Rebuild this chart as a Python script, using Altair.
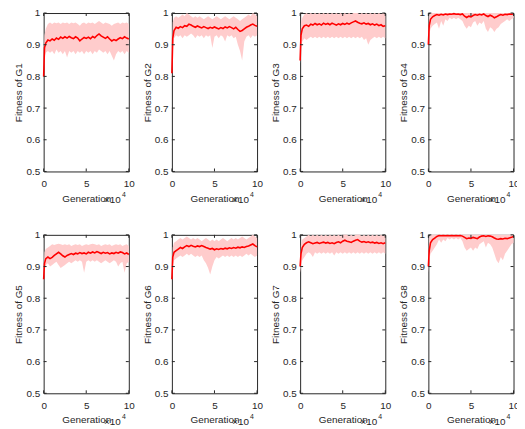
import altair as alt
import pandas as pd

# Generation (x 10^4)
X = [0, 0.1,
     0.25, 0.5, 0.75, 1, 1.25, 1.5, 1.75, 2, 2.25, 2.5,
     2.75, 3, 3.25, 3.5, 3.75, 4, 4.25, 4.5, 4.75, 5,
     5.25, 5.5, 5.75, 6, 6.25, 6.5, 6.75, 7, 7.25, 7.5,
     7.75, 8, 8.25, 8.5, 8.75, 9, 9.25, 9.5, 9.75, 10]

G1_MEAN = [0.80, 0.89,
           0.905, 0.915, 0.912, 0.918, 0.914, 0.921, 0.917, 0.924, 0.920, 0.925,
           0.921, 0.926, 0.922, 0.919, 0.925, 0.921, 0.912, 0.918, 0.923, 0.920,
           0.924, 0.919, 0.926, 0.922, 0.929, 0.934, 0.928, 0.924, 0.920, 0.925,
           0.918, 0.912, 0.916, 0.913, 0.918, 0.922, 0.919, 0.925, 0.921, 0.918]
G1_LO = [0.80, 0.86,
         0.875, 0.880, 0.875, 0.880, 0.870, 0.885, 0.875, 0.880, 0.870, 0.880,
         0.860, 0.880, 0.875, 0.880, 0.870, 0.880, 0.875, 0.880, 0.870, 0.880,
         0.875, 0.880, 0.870, 0.880, 0.875, 0.885, 0.880, 0.875, 0.880, 0.870,
         0.880, 0.865, 0.850, 0.870, 0.880, 0.875, 0.880, 0.870, 0.880, 0.875]
G1_HI = [0.81, 0.93,
         0.950, 0.965, 0.970, 0.965, 0.970, 0.968, 0.970, 0.965, 0.970, 0.968,
         0.970, 0.965, 0.970, 0.968, 0.970, 0.965, 0.960, 0.968, 0.970, 0.965,
         0.970, 0.968, 0.970, 0.965, 0.970, 0.975, 0.970, 0.965, 0.970, 0.968,
         0.965, 0.960, 0.965, 0.968, 0.970, 0.965, 0.970, 0.968, 0.970, 0.965]

G2_MEAN = [0.81, 0.92,
           0.945, 0.955, 0.952, 0.957, 0.954, 0.960, 0.958, 0.965, 0.962, 0.958,
           0.955, 0.959, 0.956, 0.953, 0.957, 0.954, 0.951, 0.955, 0.952, 0.956,
           0.953, 0.950, 0.954, 0.951, 0.956, 0.953, 0.957, 0.954, 0.950, 0.955,
           0.948, 0.942, 0.945, 0.950, 0.955, 0.958, 0.962, 0.965, 0.961, 0.958]
G2_LO = [0.80, 0.88,
         0.920, 0.930, 0.925, 0.930, 0.920, 0.930, 0.925, 0.930, 0.935, 0.930,
         0.920, 0.930, 0.925, 0.930, 0.920, 0.930, 0.925, 0.930, 0.890, 0.925,
         0.930, 0.920, 0.930, 0.925, 0.910, 0.930, 0.925, 0.930, 0.920, 0.925,
         0.900, 0.880, 0.850, 0.910, 0.925, 0.930, 0.920, 0.930, 0.925, 0.930]
G2_HI = [0.82, 0.97,
         0.985, 0.990, 0.985, 0.990, 0.995, 0.990, 1.000, 0.995, 0.990, 0.985,
         0.990, 0.985, 0.990, 0.985, 0.980, 0.985, 0.990, 0.985, 0.980, 0.985,
         0.990, 0.985, 0.980, 0.985, 0.990, 0.985, 0.980, 0.985, 0.990, 0.985,
         0.980, 0.975, 0.980, 0.985, 0.990, 0.995, 0.990, 1.000, 0.995, 0.990]

G3_MEAN = [0.85, 0.93,
           0.950, 0.960, 0.962, 0.958, 0.965, 0.962, 0.967, 0.963, 0.966, 0.962,
           0.968, 0.964, 0.967, 0.963, 0.968, 0.965, 0.962, 0.966, 0.963, 0.967,
           0.964, 0.968, 0.965, 0.969, 0.972, 0.975, 0.971, 0.968, 0.966, 0.969,
           0.965, 0.967, 0.963, 0.966, 0.962, 0.965, 0.960, 0.963, 0.958, 0.960]
G3_LO = [0.84, 0.89,
         0.910, 0.920, 0.915, 0.920, 0.925, 0.920, 0.925, 0.920, 0.925, 0.920,
         0.925, 0.920, 0.925, 0.920, 0.925, 0.920, 0.925, 0.920, 0.925, 0.920,
         0.925, 0.920, 0.925, 0.920, 0.925, 0.920, 0.925, 0.920, 0.925, 0.915,
         0.920, 0.900, 0.915, 0.920, 0.925, 0.920, 0.925, 0.920, 0.925, 0.920]
G3_HI = [0.86, 0.97,
         0.985, 0.995, 1.000, 0.995, 1.000, 0.995, 1.000, 0.995, 1.000, 0.995,
         1.000, 0.995, 1.000, 0.995, 1.000, 0.995, 1.000, 0.995, 1.000, 0.995,
         1.000, 0.995, 1.000, 0.995, 1.000, 1.000, 1.000, 0.995, 1.000, 0.995,
         1.000, 0.995, 1.000, 0.995, 1.000, 0.995, 1.000, 0.995, 1.000, 0.995]

G4_MEAN = [0.90, 0.96,
           0.980, 0.988, 0.992, 0.995, 0.993, 0.996, 0.994, 0.997, 0.995, 0.997,
           0.996, 0.998, 0.996, 0.997, 0.995, 0.997, 0.990, 0.986, 0.990, 0.988,
           0.992, 0.995, 0.993, 0.996, 0.994, 0.997, 0.992, 0.989, 0.993, 0.990,
           0.985, 0.988, 0.992, 0.995, 0.993, 0.996, 0.995, 0.997, 0.996, 0.997]
G4_LO = [0.88, 0.93,
         0.950, 0.960, 0.965, 0.970, 0.950, 0.975, 0.960, 0.980, 0.975, 0.985,
         0.980, 0.985, 0.980, 0.985, 0.980, 0.975, 0.960, 0.950, 0.960, 0.955,
         0.970, 0.975, 0.960, 0.970, 0.965, 0.975, 0.950, 0.940, 0.955, 0.950,
         0.940, 0.950, 0.955, 0.965, 0.970, 0.975, 0.980, 0.975, 0.980, 0.985]
G4_HI = [0.92, 0.99,
         1.000, 1.000, 1.000, 1.000, 1.000, 1.000, 1.000, 1.000, 1.000, 1.000,
         1.000, 1.000, 1.000, 1.000, 1.000, 1.000, 1.000, 1.000, 1.000, 1.000,
         1.000, 1.000, 1.000, 1.000, 1.000, 1.000, 1.000, 1.000, 1.000, 1.000,
         1.000, 1.000, 1.000, 1.000, 1.000, 1.000, 1.000, 1.000, 1.000, 1.000]

G5_MEAN = [0.86, 0.91,
           0.925, 0.930, 0.925, 0.929, 0.935, 0.940, 0.945, 0.940, 0.934, 0.930,
           0.935, 0.938, 0.941, 0.938, 0.942, 0.940, 0.944, 0.941, 0.943, 0.940,
           0.945, 0.942, 0.946, 0.943, 0.947, 0.944, 0.941, 0.945, 0.942, 0.944,
           0.940, 0.943, 0.941, 0.945, 0.942, 0.946, 0.944, 0.940, 0.943, 0.938]
G5_LO = [0.85, 0.89,
         0.905, 0.910, 0.900, 0.905, 0.910, 0.915, 0.905, 0.895, 0.900, 0.905,
         0.910, 0.915, 0.910, 0.915, 0.920, 0.915, 0.920, 0.915, 0.880, 0.915,
         0.920, 0.915, 0.920, 0.915, 0.920, 0.915, 0.910, 0.915, 0.920, 0.915,
         0.910, 0.915, 0.920, 0.915, 0.900, 0.910, 0.915, 0.880, 0.910, 0.915]
G5_HI = [0.87, 0.945,
         0.955, 0.960, 0.965, 0.970, 0.968, 0.970, 0.972, 0.970, 0.968, 0.970,
         0.968, 0.970, 0.965, 0.968, 0.970, 0.968, 0.970, 0.965, 0.968, 0.970,
         0.968, 0.970, 0.972, 0.970, 0.968, 0.970, 0.965, 0.968, 0.970, 0.968,
         0.970, 0.965, 0.968, 0.970, 0.968, 0.970, 0.965, 0.968, 0.970, 0.965]

G6_MEAN = [0.86, 0.93,
           0.945, 0.950, 0.955, 0.960, 0.957, 0.962, 0.966, 0.963, 0.967, 0.964,
           0.962, 0.965, 0.963, 0.966, 0.963, 0.960, 0.958, 0.955, 0.957, 0.953,
           0.956, 0.954, 0.957, 0.955, 0.958, 0.956, 0.959, 0.957, 0.960, 0.958,
           0.961, 0.959, 0.962, 0.960, 0.963, 0.965, 0.968, 0.971, 0.966, 0.962]
G6_LO = [0.85, 0.90,
         0.920, 0.925, 0.930, 0.935, 0.930, 0.935, 0.940, 0.935, 0.940, 0.935,
         0.930, 0.935, 0.930, 0.935, 0.920, 0.910, 0.895, 0.875, 0.900, 0.920,
         0.930, 0.925, 0.930, 0.935, 0.930, 0.935, 0.930, 0.935, 0.930, 0.935,
         0.930, 0.935, 0.930, 0.935, 0.940, 0.935, 0.940, 0.935, 0.930, 0.935]
G6_HI = [0.87, 0.96,
         0.975, 0.980, 0.985, 0.990, 0.985, 0.990, 0.995, 0.990, 0.985, 0.990,
         0.985, 0.990, 0.985, 0.980, 0.985, 0.990, 0.985, 0.980, 0.985, 0.980,
         0.985, 0.980, 0.985, 0.990, 0.985, 0.980, 0.985, 0.990, 0.985, 0.990,
         0.985, 0.990, 0.995, 0.990, 0.985, 0.990, 0.995, 1.000, 0.995, 0.990]

G7_MEAN = [0.90, 0.94,
           0.960, 0.970, 0.975, 0.978, 0.975, 0.972, 0.974, 0.976, 0.973, 0.975,
           0.977, 0.974, 0.976, 0.973, 0.975, 0.972, 0.976, 0.978, 0.975, 0.980,
           0.983, 0.980, 0.978, 0.976, 0.980, 0.983, 0.985, 0.980, 0.977, 0.979,
           0.976, 0.978, 0.975, 0.977, 0.974, 0.976, 0.973, 0.975, 0.972, 0.975]
G7_LO = [0.88, 0.90,
         0.920, 0.930, 0.940, 0.945, 0.940, 0.930, 0.945, 0.940, 0.945, 0.940,
         0.945, 0.940, 0.945, 0.940, 0.945, 0.935, 0.945, 0.940, 0.945, 0.940,
         0.945, 0.940, 0.945, 0.940, 0.945, 0.940, 0.945, 0.940, 0.945, 0.940,
         0.945, 0.940, 0.945, 0.940, 0.945, 0.940, 0.945, 0.940, 0.945, 0.940]
G7_HI = [0.91, 0.97,
         0.985, 0.990, 0.995, 1.000, 0.995, 1.000, 0.995, 1.000, 0.995, 1.000,
         0.995, 1.000, 0.995, 1.000, 0.995, 1.000, 0.995, 1.000, 0.995, 1.000,
         1.000, 1.000, 0.995, 1.000, 0.995, 1.000, 1.000, 1.000, 0.995, 1.000,
         0.995, 1.000, 0.995, 1.000, 0.995, 1.000, 0.995, 1.000, 0.995, 1.000]

G8_MEAN = [0.90, 0.95,
           0.975, 0.985, 0.990, 0.995, 0.998, 0.997, 0.998, 0.997, 0.998, 0.997,
           0.998, 0.997, 0.998, 0.997, 0.998, 0.996, 0.992, 0.988, 0.990, 0.989,
           0.992, 0.990, 0.988, 0.993, 0.996, 0.997, 0.995, 0.997, 0.996, 0.994,
           0.990, 0.987, 0.986, 0.988, 0.987, 0.989, 0.988, 0.990, 0.992, 0.995]
G8_LO = [0.88, 0.92,
         0.940, 0.950, 0.960, 0.970, 0.985, 0.975, 0.985, 0.980, 0.990, 0.985,
         0.990, 0.985, 0.990, 0.985, 0.990, 0.980, 0.960, 0.950, 0.955, 0.960,
         0.950, 0.960, 0.955, 0.970, 0.975, 0.980, 0.960, 0.975, 0.970, 0.960,
         0.940, 0.920, 0.910, 0.930, 0.920, 0.940, 0.950, 0.960, 0.970, 0.975]
G8_HI = [0.92, 0.99,
         1.000, 1.000, 1.000, 1.000, 1.000, 1.000, 1.000, 1.000, 1.000, 1.000,
         1.000, 1.000, 1.000, 1.000, 1.000, 1.000, 1.000, 1.000, 1.000, 1.000,
         1.000, 1.000, 1.000, 1.000, 1.000, 1.000, 1.000, 1.000, 1.000, 1.000,
         1.000, 1.000, 1.000, 1.000, 1.000, 1.000, 1.000, 1.000, 1.000, 1.000]

NAMES = ["G1", "G2", "G3", "G4", "G5", "G6", "G7", "G8"]
SERIES = [(G1_MEAN, G1_LO, G1_HI), (G2_MEAN, G2_LO, G2_HI),
          (G3_MEAN, G3_LO, G3_HI), (G4_MEAN, G4_LO, G4_HI),
          (G5_MEAN, G5_LO, G5_HI), (G6_MEAN, G6_LO, G6_HI),
          (G7_MEAN, G7_LO, G7_HI), (G8_MEAN, G8_LO, G8_HI)]
X_TICKS = [0, 5, 10]
Y_TICKS = [0.5, 0.6, 0.7, 0.8, 0.9, 1.0]

W, H = 86, 160
FONT = "Liberation Sans"
INK = "#262626"

xscale = alt.Scale(domain=[0, 10], nice=False, zero=False)
yscale = alt.Scale(domain=[0.5, 1.0], nice=False, zero=False)


def xaxis():
    return alt.Axis(values=X_TICKS, format="d", title="Generation",
                    ticks=False, domain=False, grid=False,
                    labelFlush=False, labelPadding=7, titlePadding=5,
                    labelFontSize=10, titleFontSize=10,
                    labelFont=FONT, titleFont=FONT,
                    labelColor=INK, titleColor=INK,
                    titleFontWeight="normal")


def yaxis(name):
    return alt.Axis(values=Y_TICKS, title="Fitness of " + name,
                    labelExpr="datum.value >= 1 ? '1' : format(datum.value, '.1f')",
                    ticks=False, domain=False, grid=False,
                    labelFlush=False, labelPadding=4, titlePadding=2,
                    labelFontSize=10, titleFontSize=10,
                    labelFont=FONT, titleFont=FONT,
                    labelColor=INK, titleColor=INK,
                    titleFontWeight="normal")


def panel(name, mean, lo, hi):
    df = pd.DataFrame({"x": X, "mean": mean, "lo": lo, "hi": hi})
    base = alt.Chart(df)
    ex = alt.X("x:Q", scale=xscale, axis=xaxis())
    band = base.mark_area(color="#ffcccc", opacity=1).encode(
        x=ex,
        y=alt.Y("lo:Q", scale=yscale, axis=yaxis(name)),
        y2="hi:Q",
    )
    line = base.mark_line(color="#ff0000", strokeWidth=1.6).encode(
        x=ex,
        y=alt.Y("mean:Q", scale=yscale, axis=yaxis(name)),
    )
    xt_df = pd.DataFrame({"t": X_TICKS})
    yt_df = pd.DataFrame({"t": Y_TICKS})
    xt_bot = alt.Chart(xt_df).mark_rule(color=INK).encode(
        x=alt.X("t:Q", scale=xscale, axis=xaxis()), y=alt.value(H), y2=alt.value(H - 3))
    xt_top = alt.Chart(xt_df).mark_rule(color=INK).encode(
        x=alt.X("t:Q", scale=xscale, axis=xaxis()), y=alt.value(0), y2=alt.value(3))
    yt_l = alt.Chart(yt_df).mark_rule(color=INK).encode(
        y=alt.Y("t:Q", scale=yscale, axis=yaxis(name)), x=alt.value(0), x2=alt.value(3))
    yt_r = alt.Chart(yt_df).mark_rule(color=INK).encode(
        y=alt.Y("t:Q", scale=yscale, axis=yaxis(name)), x=alt.value(W - 3), x2=alt.value(W))
    exp10 = alt.Chart(pd.DataFrame({"s": ["\u00d710"]})).mark_text(
        font=FONT, fontSize=10, color=INK, align="left", baseline="middle").encode(
        text="s:N", x=alt.value(W - 25), y=alt.value(H + 29))
    exp4 = alt.Chart(pd.DataFrame({"s": ["4"]})).mark_text(
        font=FONT, fontSize=7, color=INK, align="left", baseline="middle").encode(
        text="s:N", x=alt.value(W - 7), y=alt.value(H + 24))
    return alt.layer(band, line, xt_bot, xt_top, yt_l, yt_r, exp10, exp4).properties(
        width=W, height=H)


panels = [panel(n, *s) for n, s in zip(NAMES, SERIES)]
row1 = alt.hconcat(*panels[:4], spacing=5.5)
row2 = alt.hconcat(*panels[4:], spacing=5.5)
chart = alt.vconcat(row1, row2, spacing=23).properties(
    padding={"left": 5, "top": -3, "right": -3, "bottom": 0}
).configure_view(stroke=INK, strokeWidth=1)

chart.save("out.html", embed_options={"renderer": "svg", "actions": False})
